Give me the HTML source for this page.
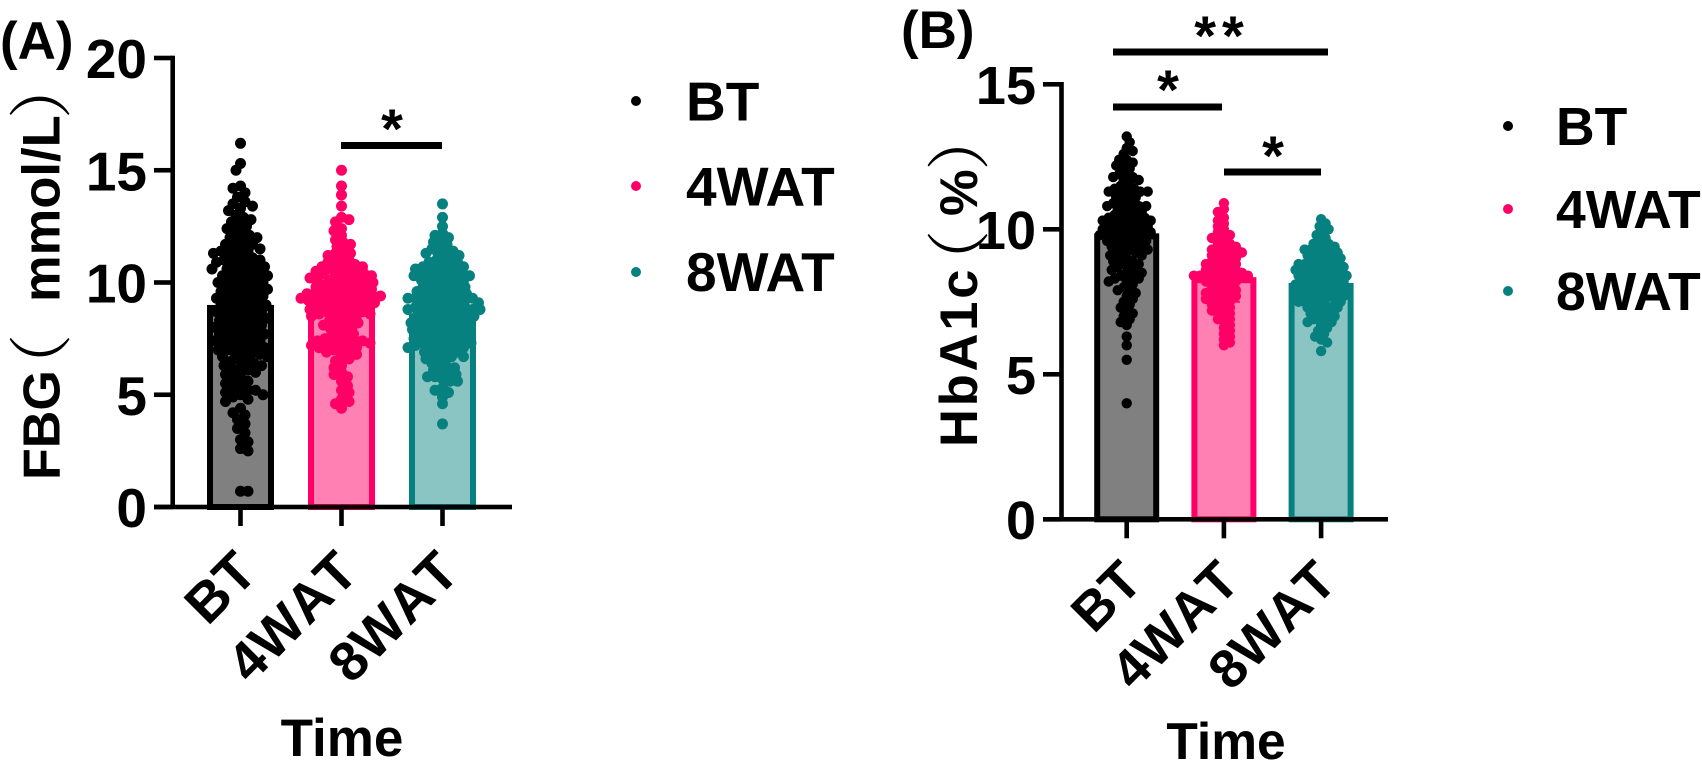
<!DOCTYPE html>
<html lang="en">
<head>
<meta charset="utf-8">
<title>FBG and HbA1c over time</title>
<style>
html,body{margin:0;padding:0;background:#fff;}
svg{display:block;}
text{font-family:"Liberation Sans","Noto Sans CJK SC",sans-serif;font-weight:700;fill:#000;}
.paren{font-family:"Noto Serif CJK SC","Noto Sans CJK SC",sans-serif;font-weight:400;}
</style>
</head>
<body>
<svg id="figure" xmlns="http://www.w3.org/2000/svg" width="1702" height="762" viewBox="0 0 1702 762">
  <rect width="1702" height="762" fill="#fff"/>
  <g id="chart-a"></g>
  <g id="chart-b"></g>

  <text x="0" y="59" font-size="53">(A)</text>
  <text x="901" y="48" font-size="53">(B)</text>

  <g>
    <text transform="translate(59.5,480) rotate(-90)" font-size="52">FBG</text>
    <text class="paren" transform="translate(64,366) rotate(-90)" font-size="64" text-anchor="middle">（</text>
    <text transform="translate(59.5,302) rotate(-90)" font-size="52.5">mmol/L</text>
    <text class="paren" transform="translate(64,87) rotate(-90)" font-size="64" text-anchor="middle">）</text>
  </g>
  <g>
    <text transform="translate(977,447) rotate(-90)" font-size="52.5" letter-spacing="2.8">HbA1c</text>
    <text class="paren" transform="translate(982,262) rotate(-90)" font-size="64" text-anchor="middle">（</text>
    <text transform="translate(977,216) rotate(-90)" font-size="52.5">%</text>
    <text class="paren" transform="translate(982,138.500) rotate(-90)" font-size="64" text-anchor="middle">）</text>
  </g>

  <text x="342" y="756" font-size="53" text-anchor="middle">Time</text>
  <text x="1226" y="759" font-size="51.5" text-anchor="middle">Time</text>

  <rect x="341" y="142" width="101" height="7"/>
  <text x="392" y="148" font-size="56" text-anchor="middle">*</text>
  <rect x="1113" y="48.500" width="215" height="7"/>
  <text x="1222" y="55" font-size="56" text-anchor="middle" letter-spacing="6">**</text>
  <rect x="1113" y="103.500" width="109" height="7"/>
  <text x="1168" y="109" font-size="56" text-anchor="middle">*</text>
  <rect x="1224" y="168.500" width="97" height="7"/>
  <text x="1273" y="175" font-size="56" text-anchor="middle">*</text>

  <g>
    <circle cx="636" cy="101" r="5" fill="#000"/>
    <text x="686" y="120.500" font-size="55">BT</text>
    <circle cx="636" cy="186" r="5" fill="#ff0066"/>
    <text x="686" y="205.500" font-size="55">4WAT</text>
    <circle cx="636" cy="272" r="5" fill="#078080"/>
    <text x="686" y="291" font-size="55">8WAT</text>
  </g>
  <g>
    <circle cx="1508" cy="126" r="5" fill="#000"/>
    <text x="1556" y="145" font-size="53.500">BT</text>
    <circle cx="1508" cy="209" r="5" fill="#ff0066"/>
    <text x="1556" y="228" font-size="53.500">4WAT</text>
    <circle cx="1508" cy="291" r="5" fill="#078080"/>
    <text x="1556" y="310" font-size="53.500">8WAT</text>
  </g>
</svg>
<script>
var categories = ['BT', '4WAT', '8WAT'];
var fbgTicks = [0, 5, 10, 15, 20];
var hbaTicks = [0, 5, 10, 15];
var fbgMeans = [9.0, 9.1, 8.6];
var fbgSd = [2.8, 1.6, 1.6];
var hbaMeans = [9.86, 8.35, 8.15];
var hbaSd = [1.3, 0.85, 0.85];

var fbgBT = [16.2,15.3,15.0,14.3,14.2,14.0,13.8,13.6,13.5,13.4,13.3,13.2,13.0,
12.9,12.8,12.7,12.6,12.5,12.4,12.3,12.2,12.1,12.0,12.0,11.9,11.8,11.7,11.7,11.6,11.5,11.5,
11.4,11.4,11.3,11.3,11.2,11.1,11.1,11.0,11.0,10.9,10.9,10.8,10.8,10.7,10.7,10.6,10.6,10.5,10.5,
10.4,10.4,10.3,10.3,10.2,10.2,10.1,10.1,10.0,10.0,9.9,9.9,9.8,9.8,9.7,9.7,9.6,9.6,9.5,9.5,
9.4,9.4,9.3,9.3,9.2,9.2,9.1,9.1,9.0,9.0,8.9,8.9,8.8,8.8,8.7,8.7,8.6,8.6,8.5,8.5,
8.4,8.4,8.3,8.3,8.2,8.2,8.1,8.1,8.0,8.0,7.9,7.9,7.8,7.8,7.7,7.7,7.6,7.6,7.5,7.5,
7.4,7.4,7.3,7.3,7.2,7.2,7.1,7.1,7.0,7.0,6.9,6.9,6.8,6.8,6.7,6.7,6.6,6.5,6.5,
6.4,6.3,6.3,6.2,6.1,6.1,6.0,5.9,5.8,5.7,5.6,5.5,5.4,5.3,5.2,5.2,5.1,5.0,5.0,4.9,4.8,4.7,
4.4,4.2,4.1,3.9,3.7,3.5,3.3,3.0,2.9,2.6,2.5,0.7,0.7];

var fbg4WAT = [15.0,14.3,13.9,13.4,12.9,12.8,12.7,12.4,12.3,12.1,11.9,11.8,11.7,11.6,
11.4,11.3,11.3,11.2,11.1,11.0,10.9,10.9,10.8,10.8,10.7,10.7,10.6,10.6,10.6,10.5,10.5,
10.4,10.4,10.4,10.3,10.3,10.3,10.2,10.2,10.2,10.1,10.1,10.1,10.0,10.0,
9.9,9.9,9.9,9.8,9.8,9.8,9.7,9.7,9.7,9.6,9.6,9.6,9.5,9.5,9.5,9.5,
9.4,9.4,9.4,9.4,9.3,9.3,9.3,9.3,9.2,9.2,9.2,9.2,9.1,9.1,9.1,9.0,9.0,9.0,
8.9,8.9,8.9,8.8,8.8,8.8,8.7,8.7,8.7,8.6,8.6,8.6,8.5,8.5,8.5,
8.4,8.3,8.3,8.2,8.2,8.1,8.1,8.0,7.9,7.9,7.8,7.7,7.6,7.6,7.5,7.5,
7.4,7.4,7.4,7.3,7.3,7.3,7.2,7.2,7.2,7.1,7.1,7.0,7.0,6.9,6.9,6.8,6.7,6.6,6.5,
6.3,6.2,6.0,5.9,5.8,5.6,5.4,5.2,5.1,4.8,4.7,4.6,4.4];

var fbg8WAT = [13.5,12.9,12.5,12.2,12.1,12.0,11.9,11.8,11.7,11.6,11.5,11.4,11.4,11.3,11.3,11.2,11.1,11.1,11.0,
10.9,10.9,10.8,10.8,10.7,10.7,10.7,10.6,10.6,10.5,10.5,
10.4,10.4,10.4,10.3,10.3,10.3,10.2,10.2,10.2,10.1,10.1,10.0,10.0,
9.9,9.9,9.8,9.8,9.8,9.7,9.7,9.6,9.6,9.6,9.5,9.5,
9.4,9.4,9.4,9.3,9.3,9.3,9.3,9.2,9.2,9.2,9.1,9.1,9.1,9.0,9.0,
8.9,8.9,8.9,8.9,8.8,8.8,8.8,8.8,8.7,8.7,8.7,8.6,8.6,8.6,8.5,8.5,8.5,
8.4,8.4,8.4,8.3,8.3,8.3,8.2,8.2,8.2,8.1,8.1,8.1,8.0,8.0,8.0,
7.9,7.9,7.9,7.8,7.8,7.8,7.7,7.7,7.6,7.6,7.6,7.5,7.5,7.5,
7.4,7.4,7.3,7.3,7.3,7.2,7.2,7.2,7.1,7.1,7.1,7.0,7.0,
6.9,6.9,6.8,6.8,6.7,6.7,6.6,6.6,6.5,6.4,6.3,6.2,6.2,6.1,6.0,
5.9,5.9,5.8,5.8,5.7,5.6,5.6,5.3,5.2,5.1,4.9,4.6,3.7];

var hbaBT = [13.2,13.0,12.8,12.7,12.6,12.4,12.4,12.3,12.2,12.2,12.1,11.9,11.9,11.8,11.8,11.7,11.7,11.6,11.5,
11.4,11.4,11.4,11.3,11.3,11.3,11.2,11.2,11.1,11.1,11.0,
10.9,10.9,10.9,10.8,10.8,10.8,10.7,10.7,10.6,10.6,10.5,10.5,
10.4,10.4,10.4,10.4,10.3,10.3,10.3,10.2,10.2,10.2,10.1,10.1,10.1,10.0,10.0,10.0,
9.9,9.9,9.9,9.9,9.8,9.8,9.8,9.7,9.7,9.7,9.6,9.6,9.6,9.5,9.5,
9.4,9.4,9.4,9.3,9.3,9.2,9.2,9.2,9.1,9.1,9.0,9.0,
8.9,8.9,8.8,8.8,8.7,8.7,8.6,8.6,8.5,8.5,
8.4,8.4,8.3,8.3,8.2,8.2,8.1,8.0,7.9,7.9,7.8,7.7,7.6,7.5,
7.4,7.3,7.2,7.1,7.0,6.9,6.8,6.7,6.3,6.0,5.5,4.0];

var hba4WAT = [10.9,10.7,10.6,10.4,10.3,10.2,10.1,10.0,9.9,9.8,9.8,9.7,9.7,9.6,9.5,9.5,
9.4,9.4,9.3,9.3,9.3,9.2,9.2,9.2,9.1,9.1,9.1,9.0,9.0,
8.9,8.9,8.9,8.8,8.8,8.8,8.7,8.7,8.7,8.6,8.6,8.6,
8.5,8.5,8.5,8.5,8.4,8.4,8.4,8.4,8.4,8.4,
8.3,8.3,8.3,8.2,8.2,8.2,8.1,8.1,8.0,8.0,
7.9,7.9,7.9,7.8,7.8,7.8,7.7,7.7,7.7,7.6,7.6,7.6,7.5,7.5,
7.4,7.4,7.3,7.3,7.2,7.2,7.1,7.1,7.0,
6.9,6.9,6.8,6.7,6.6,6.5,6.4,6.3,6.2,6.1,6.0];

var hba8WAT = [10.35,10.2,10.1,10.0,9.9,9.8,9.7,9.6,9.5,9.5,9.4,9.4,9.3,9.3,9.3,9.2,9.2,9.2,9.1,9.1,9.1,9.0,9.0,9.0,
8.9,8.9,8.9,8.8,8.8,8.8,8.8,8.7,8.7,8.7,8.7,8.6,8.6,8.6,8.6,8.5,8.5,8.5,8.5,
8.4,8.4,8.4,8.4,8.3,8.3,8.3,8.3,8.2,8.2,8.2,8.2,8.1,8.1,8.1,8.1,8.0,8.0,8.0,8.0,
7.9,7.9,7.9,7.9,7.8,7.8,7.8,7.8,7.7,7.7,7.7,7.7,7.6,7.6,7.6,7.6,7.5,7.5,7.5,
7.4,7.4,7.4,7.3,7.3,7.3,7.2,7.2,7.1,7.1,7.0,7.0,
6.9,6.9,6.8,6.8,6.7,6.6,6.5,6.4,6.3,6.2,6.1,5.8];

var NS = 'http://www.w3.org/2000/svg';
var seriesColors = ['#000000', '#ff0066', '#078080'];
var barFills = ['#808080', '#ff80b3', '#8ac5c3'];

function make(parent, tag) {
  var el = document.createElementNS(NS, tag);
  parent.appendChild(el);
  return el;
}

function swarmOffsets(values, yOf, gap) {
  var order = values.slice().sort(function (a, b) { return b - a; });
  var placed = [];
  order.forEach(function (v, i) {
    var y = yOf(v);
    var sign = i % 2 ? 1 : -1;
    for (var k = 0; k < 400; k++) {
      var off = sign * k * 1.5;
      var candidates = k === 0 ? [off] : [off, -off];
      var found = null;
      for (var c = 0; c < candidates.length && found === null; c++) {
        var clear = true;
        for (var j = 0; j < placed.length; j++) {
          var dx = placed[j].off - candidates[c];
          var dy = placed[j].y - y;
          if (dx * dx + dy * dy < gap * gap) { clear = false; break; }
        }
        if (clear) found = candidates[c];
      }
      if (found !== null) { placed.push({ off: found, y: y, v: v }); break; }
    }
  });
  return placed;
}

function drawChart(cfg) {
  var g = document.getElementById(cfg.id);
  var yOf = function (v) { return cfg.y0 - v * cfg.pxPerUnit; };
  var xOf = function (i) { return cfg.x0 + i * cfg.xStep; };

  cfg.series.forEach(function (values, i) {
    var cx = xOf(i);
    var barW = cfg.barWidth;
    var sw = cfg.barStroke;

    var bar = make(g, 'rect');
    
    
    bar.setAttribute('x', cx - barW / 2 + sw / 2);
    bar.setAttribute('y', yOf(cfg.means[i]) + sw / 2);
    bar.setAttribute('width', barW - sw);
    bar.setAttribute('height', cfg.y0 - yOf(cfg.means[i]) - sw / 2);
    bar.setAttribute('fill', barFills[i]);
    bar.setAttribute('stroke', seriesColors[i]);
    bar.setAttribute('stroke-width', sw);

    var hi = yOf(cfg.means[i] + cfg.sd[i]);
    var lo = yOf(cfg.means[i] - cfg.sd[i]);
    var err = make(g, 'path');
    
    
    err.setAttribute('d', 'M' + (cx - 16) + ' ' + hi + 'H' + (cx + 16) + 'M' + cx + ' ' + hi + 'V' + lo + 'M' + (cx - 16) + ' ' + lo + 'H' + (cx + 16));
    err.setAttribute('stroke', seriesColors[i]);
    err.setAttribute('stroke-width', 2);
    err.setAttribute('fill', 'none');

    var dots = make(g, 'g');
    
    
    swarmOffsets(values, yOf, cfg.gaps[i]).forEach(function (p) {
      var c = make(dots, 'circle');
      
      
      c.setAttribute('cx', cx + p.off);
      c.setAttribute('cy', p.y);
      c.setAttribute('r', cfg.dotR);
      c.setAttribute('fill', seriesColors[i]);
    });
  });

  var yAxis = make(g, 'rect');
  
  
  yAxis.setAttribute('x', cfg.axisX - 2.3);
  yAxis.setAttribute('y', yOf(cfg.ticks[cfg.ticks.length - 1]) - 2.3);
  yAxis.setAttribute('width', 4.6);
  yAxis.setAttribute('height', cfg.y0 - yOf(cfg.ticks[cfg.ticks.length - 1]) + 2.3);

  cfg.ticks.forEach(function (t) {
    var tick = make(g, 'rect');
    
    
    tick.setAttribute('x', cfg.axisLeft);
    tick.setAttribute('y', yOf(t) - 2.3);
    tick.setAttribute('width', cfg.axisX - cfg.axisLeft);
    tick.setAttribute('height', 4.6);

    var lab = make(g, 'text');
    
    
    lab.setAttribute('x', cfg.tickLabelX);
    lab.setAttribute('y', yOf(t) + cfg.tickLabelDy);
    lab.setAttribute('text-anchor', 'end');
    lab.setAttribute('font-size', cfg.tickFont);
    lab.textContent = t;
  });

  var xAxis = make(g, 'rect');
  
  
  xAxis.setAttribute('x', cfg.axisLeft);
  xAxis.setAttribute('y', cfg.y0 - 2.3);
  xAxis.setAttribute('width', cfg.axisRight - cfg.axisLeft);
  xAxis.setAttribute('height', 4.6);

  categories.forEach(function (name, i) {
    var cx = xOf(i);
    var tick = make(g, 'rect');
    
    
    tick.setAttribute('x', cx - 2.3);
    tick.setAttribute('y', cfg.y0);
    tick.setAttribute('width', 4.6);
    tick.setAttribute('height', 19);

    var lab = make(g, 'text');
    
    
    lab.setAttribute('text-anchor', 'end');
    lab.setAttribute('font-size', cfg.catFont);
    lab.setAttribute('style', 'font-kerning:none');
    lab.setAttribute('transform', 'translate(' + (cx + cfg.catDx) + ',' + cfg.catY + ') rotate(-45)');
    lab.textContent = name;
  });
}

drawChart({
  id: 'chart-a', series: [fbgBT, fbg4WAT, fbg8WAT], means: fbgMeans, sd: fbgSd, ticks: fbgTicks,
  y0: 507, pxPerUnit: 22.45, x0: 240.5, xStep: 101, barWidth: 67, barStroke: 6, dotR: 5.5,
  gaps: [7.5, 6.5, 6.5], axisX: 172.7, axisLeft: 154, axisRight: 512,
  tickLabelX: 147, tickLabelDy: 20, tickFont: 55, catFont: 55, catDx: 19, catY: 575
});
drawChart({
  id: 'chart-b', series: [hbaBT, hba4WAT, hba8WAT], means: hbaMeans, sd: hbaSd, ticks: hbaTicks,
  y0: 519.3, pxPerUnit: 29, x0: 1126.7, xStep: 97.2, barWidth: 65, barStroke: 6, dotR: 5.2,
  gaps: [6.5, 5.5, 6], axisX: 1061.5, axisLeft: 1043, axisRight: 1388,
  tickLabelX: 1036, tickLabelDy: 19.5, tickFont: 54, catFont: 54, catDx: 18, catY: 584
});
</script>
</body>
</html>
